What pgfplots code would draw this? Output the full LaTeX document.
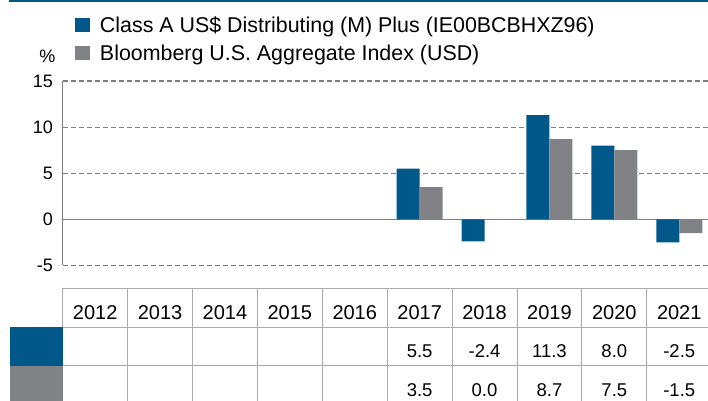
\documentclass[border=0pt]{standalone}
\usepackage{fontspec}
\setmainfont{Liberation Sans}
\usepackage{pgfplots}
\usepackage{pgfplotstable}
\pgfplotsset{compat=1.18}
\definecolor{fundblue}{RGB}{0,88,138}
\definecolor{idxgray}{RGB}{128,130,133}
\definecolor{gridgray}{RGB}{128,128,128}
\definecolor{tablegray}{RGB}{170,170,170}

\newcommand\hdrfont{\fontsize{20bp}{24bp}\selectfont}
\newcommand\valfont{\fontsize{18.5bp}{22bp}\selectfont}
\newcommand\tcell[2]{\vbox to 38.8bp{\vss\hbox to 64.9bp{\hss#1#2\hss}\vss}}
\newcommand\trow[3]{\vbox{\offinterlineskip\tcell{\hdrfont}{#1}\tcell{\valfont}{#2}\tcell{\valfont}{#3}}}

\pgfplotstableread{
x y
5 5.5
6 -2.4
7 11.3
8 8.0
9 -2.5
}\funddata
\pgfplotstableread{
x y
5 3.5
6 0.0
7 8.7
8 7.5
9 -1.5
}\idxdata

\begin{document}
\begin{tikzpicture}
\path[use as bounding box] (-62.7bp,-135.6bp) rectangle (645.3bp,265.4bp);
\fill[fundblue] (-53.7bp,263.4bp) rectangle (645.3bp,265.4bp);
\begin{axis}[
  at={(0,0)}, anchor=south west,
  scale only axis, width=649bp, height=184.4bp,
  xmin=-0.5, xmax=9.5, ymin=-5, ymax=15,
  ybar=0pt, bar width=23bp,
  axis line style={draw=none}, tick style={draw=none},
  ytick={-5,5,10,15},
  extra y ticks={0},
  extra y tick style={grid style={solid, gridgray, line width=1.1bp}},
  ymajorgrids,
  grid style={gridgray, line width=1.1bp, dash pattern=on 5bp off 3bp},
  yticklabel style={font=\fontsize{18bp}{22bp}\selectfont, inner sep=0pt, xshift=-9.5bp},
  /pgf/number format/assume math mode=true,
  xtick={0,...,9},
  xticklabels={
    \trow{2012}{}{},\trow{2013}{}{},\trow{2014}{}{},\trow{2015}{}{},\trow{2016}{}{},
    \trow{2017}{5.5}{3.5},\trow{2018}{-2.4}{0.0},\trow{2019}{11.3}{8.7},
    \trow{2020}{8.0}{7.5},\trow{2021}{-2.5}{-1.5}},
  xticklabel style={anchor=north, inner sep=0pt, yshift=-22.9bp},
  clip=false,
  legend style={at={(0.0197,1.3484)}, anchor=north west, draw=none, fill=none,
    inner sep=0pt, outer sep=0pt, row sep=13bp, column sep=10bp,
    font=\fontsize{21.4bp}{25bp}\selectfont,
    nodes={inner sep=0pt, text height=15.5bp, text depth=0pt}},
  legend cell align=left,
]
\addplot[fill=fundblue, draw=none,
  legend image code/.code={\fill[fundblue] (0bp,-7bp) rectangle (14.5bp,7bp);}]
  table[x=x,y=y]{\funddata};
\addlegendentry{Class A US\$ Distributing (M) Plus (IE00BCBHXZ96)}
\addplot[fill=idxgray, draw=none,
  legend image code/.code={\fill[idxgray] (0bp,-7bp) rectangle (14.5bp,7bp);}]
  table[x=x,y=y]{\idxdata};
\addlegendentry{Bloomberg U.S. Aggregate Index (USD)}
\draw[gridgray, line width=1.1bp] (rel axis cs:0,0) -- (rel axis cs:0,1);
\end{axis}
\draw[tablegray, line width=1bp] (0,-22.9bp) -- (645.3bp,-22.9bp);
\draw[tablegray, line width=1bp] (0,-61.7bp) -- (645.3bp,-61.7bp);
\draw[tablegray, line width=1bp] (0,-100.5bp) -- (645.3bp,-100.5bp);
\foreach \k in {0,...,9} {
  \draw[tablegray, line width=1bp] (\k*64.9bp,-22.9bp) -- (\k*64.9bp,-135.6bp);
}
\fill[fundblue] (-52.7bp,-61.7bp) rectangle (0,-100.5bp);
\fill[idxgray] (-52.7bp,-100.5bp) rectangle (0,-135.6bp);
\node[font=\fontsize{18bp}{22bp}\selectfont, inner sep=0pt] at (-15.2bp,208.9bp) {\%};
\end{tikzpicture}
\end{document}
